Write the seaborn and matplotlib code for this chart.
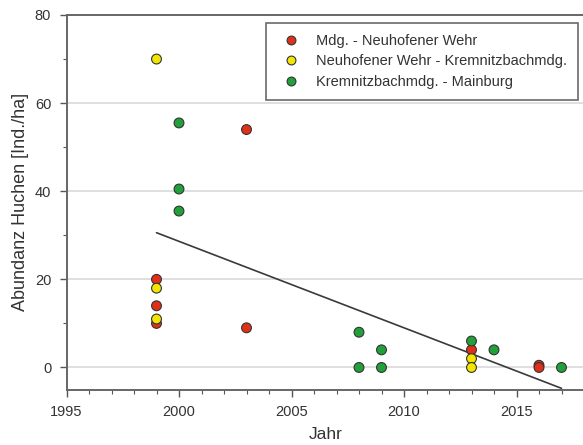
import numpy as np
import pandas as pd
import matplotlib
matplotlib.use("Agg")
import matplotlib.pyplot as plt
from matplotlib.ticker import MultipleLocator
import seaborn as sns

series_names = ["Mdg. - Neuhofener Wehr",
                "Neuhofener Wehr - Kremnitzbachmdg.",
                "Kremnitzbachmdg. - Mainburg"]

red_years = [1999, 1999, 1999, 2003, 2003, 2013, 2016, 2016]
red_vals = [20, 14, 10, 54, 9, 4, 0.5, 0]
yellow_years = [1999, 1999, 1999, 2013, 2013]
yellow_vals = [70, 18, 11, 2, 0]
green_years = [2000, 2000, 2000, 2008, 2008, 2009, 2009, 2013, 2014, 2017]
green_vals = [55.5, 40.5, 35.5, 8, 0, 4, 0, 6, 4, 0]

colors = ["#e0301a", "#f2e600", "#22a03a"]

df = pd.DataFrame({
    "Jahr": red_years + yellow_years + green_years,
    "Abundanz": red_vals + yellow_vals + green_vals,
    "Strecke": [series_names[0]] * len(red_years)
             + [series_names[1]] * len(yellow_years)
             + [series_names[2]] * len(green_years),
})

sns.set_style("white")
plt.rcParams['font.family'] = ['Liberation Sans', 'DejaVu Sans']

fig = plt.figure(figsize=(5.83, 4.45), dpi=100)
ax = fig.add_axes([66.5 / 583, 1 - 389.5 / 445, (584 - 66.5) / 583, (389.5 - 15) / 445])

for y in [0, 20, 40, 60]:
    ax.axhline(y, color="#dcdcdc", lw=1.3, zorder=0)

# trend line (least squares over all points)
coef = np.polyfit(df["Jahr"], df["Abundanz"], 1)
xs = np.array([1999, 2017])
ax.plot(xs, np.polyval(coef, xs), color="#3a3a3a", lw=1.2, zorder=1)

sns.scatterplot(data=df, x="Jahr", y="Abundanz", hue="Strecke",
                hue_order=series_names, palette=colors, s=50,
                edgecolor="#333333", linewidth=0.8, ax=ax, zorder=3, legend=True)

ax.set_xlim(1995, 2018)
ax.set_ylim(-5, 80)
ax.xaxis.set_major_locator(MultipleLocator(5))
ax.xaxis.set_minor_locator(MultipleLocator(1))
ax.yaxis.set_major_locator(MultipleLocator(20))
ax.yaxis.set_minor_locator(MultipleLocator(10))
ax.tick_params(axis="both", which="major", direction="out", length=5, width=1,
               color="#555555", labelsize=10.5, labelcolor="#333333", pad=6)
ax.tick_params(axis="both", which="minor", direction="out", length=3, width=0.8,
               color="#555555")
ax.tick_params(bottom=True, left=True, which="both")
ax.spines["right"].set_visible(False)
for s in ["left", "bottom", "top"]:
    ax.spines[s].set_color("#666666")
    ax.spines[s].set_linewidth(1.4)

ax.set_xlabel("Jahr", fontsize=12.5, color="#333333", labelpad=6)
ax.set_ylabel("Abundanz Huchen [Ind./ha]", fontsize=13, color="#333333", labelpad=4)

leg = ax.legend(loc="upper right", bbox_to_anchor=(578 / 583, 1 - 23 / 445),
                bbox_transform=fig.transFigure,
                frameon=True, fancybox=False, edgecolor="#444444",
                fontsize=10.5, labelspacing=0.45, handletextpad=0.7,
                borderpad=0.75, borderaxespad=0, markerscale=0.9)
leg.get_frame().set_linewidth(1.2)
for t in leg.get_texts():
    t.set_color("#333333")

fig.savefig("out.png", dpi=100)
